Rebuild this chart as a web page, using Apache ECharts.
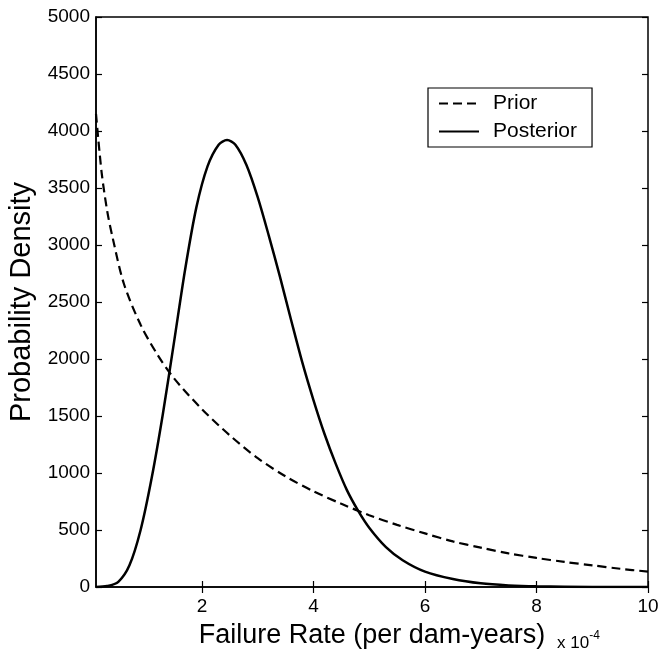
<!DOCTYPE html>
<html>
<head>
<meta charset="utf-8">
<script src="https://cdn.jsdelivr.net/npm/echarts@6/dist/echarts.min.js"></script>
<style>
  html, body { margin: 0; padding: 0; background: #fff; }
  #chart { width: 660px; height: 651px; }
</style>
</head>
<body>
<div id="chart"></div>
<script>
// failure rate in units of 1e-4 per dam-year
var priorX = [0.1, 0.2, 0.3, 0.4, 0.6, 0.9, 1.2, 1.5, 2.0, 2.5, 3.0, 3.5, 4.0, 4.5, 5.0, 5.5, 6.0, 6.5, 7.0, 7.5, 8.0, 8.5, 9.0, 9.5, 10.0];
var priorY = [4150, 3640, 3300, 3060, 2660, 2300, 2040, 1830, 1560, 1330, 1130, 970, 840, 730, 630, 545, 470, 400, 345, 295, 255, 220, 190, 160, 135];

var postX = [0.1, 0.3, 0.5, 0.7, 0.9, 1.1, 1.3, 1.5, 1.7, 1.9, 2.1, 2.3, 2.45, 2.6, 2.8, 3.0, 3.2, 3.4, 3.6, 3.8, 4.0, 4.2, 4.4, 4.6, 4.8, 5.0, 5.3, 5.6, 6.0, 6.5, 7.0, 7.5, 8.0, 9.0, 10.0];
var postY = [0, 8, 45, 190, 500, 960, 1520, 2150, 2790, 3330, 3690, 3880, 3920, 3880, 3700, 3420, 3080, 2720, 2340, 1970, 1640, 1340, 1080, 850, 670, 520, 350, 235, 135, 70, 32, 14, 6, 1, 0];

var xTicks = [2, 4, 6, 8, 10];
var seriesNames = ['Prior', 'Posterior'];

function zip(xs, ys) {
    return xs.map(function (x, i) { return [x, ys[i]]; });
}

var font = 'Liberation Sans';
var chart = echarts.init(document.getElementById('chart'), null, { renderer: 'canvas' });

var tickStyle = { inside: true, length: 6, lineStyle: { color: '#000', width: 1.2 } };

chart.setOption({
    animation: false,
    backgroundColor: '#fff',
    grid: {
        left: 96, right: 12, top: 17, bottom: 64,
        containLabel: false, outerBoundsMode: 'none',
        show: true, borderColor: '#000', borderWidth: 1.5
    },
    legend: {
        data: seriesNames,
        orient: 'vertical',
        left: 428, top: 88,
        backgroundColor: '#fff',
        borderColor: '#000', borderWidth: 1.2,
        padding: [5, 15, 5, 10],
        itemWidth: 40, itemHeight: 14, itemGap: 7,
        itemStyle: { opacity: 0 },
        textStyle: { fontFamily: font, fontSize: 21, color: '#000', padding: [0, 0, 0, 9] }
    },
    xAxis: [{
        type: 'value', min: 0.1, max: 10,
        name: 'Failure Rate (per dam-years)',
        nameLocation: 'middle', nameGap: 35,
        nameTextStyle: { fontFamily: font, fontSize: 27, color: '#000' },
        axisLine: { lineStyle: { color: '#000', width: 1.5 } },
        axisTick: Object.assign({ customValues: xTicks }, tickStyle),
        axisLabel: { customValues: xTicks, fontFamily: font, fontSize: 19, color: '#000', margin: 10 },
        splitLine: { show: false }
    }, {
        type: 'value', min: 0.1, max: 10, position: 'top',
        axisLine: { show: false },
        axisTick: Object.assign({ customValues: xTicks }, tickStyle),
        axisLabel: { show: false },
        splitLine: { show: false }
    }],
    yAxis: [{
        type: 'value', min: 0, max: 5000, interval: 500,
        name: 'Probability Density',
        nameLocation: 'middle', nameGap: 58,
        nameTextStyle: { fontFamily: font, fontSize: 29, color: '#000' },
        axisLine: { show: true, lineStyle: { color: '#000', width: 1.5 } },
        axisTick: tickStyle,
        axisLabel: {
            fontFamily: font, fontSize: 19, color: '#000', margin: 6,
            formatter: function (v) { return String(v); }
        },
        splitLine: { show: false }
    }, {
        type: 'value', min: 0, max: 5000, interval: 500, position: 'right',
        axisLine: { show: false },
        axisTick: tickStyle,
        axisLabel: { show: false },
        splitLine: { show: false }
    }],
    series: [{
        name: seriesNames[0],
        type: 'line',
        data: zip(priorX, priorY),
        smooth: 0.3,
        symbol: 'none',
        lineStyle: { color: '#000', width: 2.2, type: [9, 5] },
        itemStyle: { color: '#000' }
    }, {
        name: seriesNames[1],
        type: 'line',
        data: zip(postX, postY),
        smooth: 0.3,
        symbol: 'none',
        lineStyle: { color: '#000', width: 2.5 },
        itemStyle: { color: '#000' }
    }],
    graphic: [{
        type: 'text',
        left: 557, top: 630,
        style: {
            text: '{b|x 10}{s|-4}',
            rich: {
                b: { fontFamily: font, fontSize: 17, fill: '#000', verticalAlign: 'bottom' },
                s: { fontFamily: font, fontSize: 12, fill: '#000', verticalAlign: 'top', padding: [0, 0, 10, 0] }
            }
        }
    }]
});
</script>
</body>
</html>
